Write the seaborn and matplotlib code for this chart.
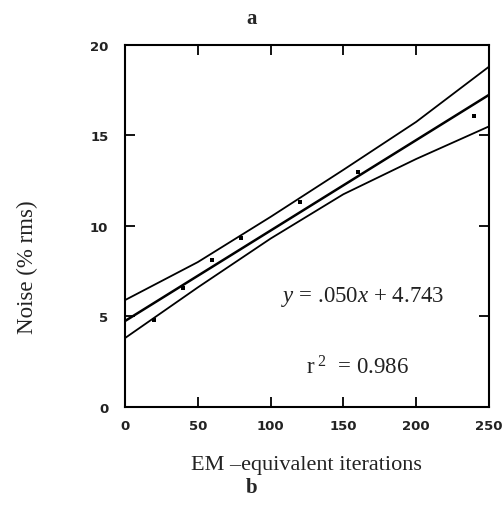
import numpy as np
import pandas as pd
import matplotlib
matplotlib.use('Agg')
import matplotlib.pyplot as plt
import seaborn as sns

# 数据
iterations = [20, 40, 60, 80, 120, 160, 240]
noise = [4.8, 6.55, 8.1, 9.35, 11.3, 13.0, 16.1]

# 拟合直线 y = .050x + 4.743
slope = 0.050
intercept = 4.743
fit_x = [0, 250]

# 置信带（手绘曲线读数）
band_x = [0, 50, 100, 150, 200, 250]
band_upper = [5.9, 8.0, 10.5, 13.1, 15.75, 18.8]
band_lower = [3.8, 6.6, 9.3, 11.75, 13.7, 15.5]

x_ticks = [0, 50, 100, 150, 200, 250]
y_ticks = [0, 5, 10, 15, 20]

sns.set_theme(style='ticks')
plt.rcParams['font.family'] = ['DejaVu Sans']
plt.rcParams['mathtext.fontset'] = 'custom'
plt.rcParams['mathtext.rm'] = 'Liberation Serif'
plt.rcParams['mathtext.it'] = 'Liberation Serif:italic'

fig = plt.figure(figsize=(5.04, 5.06), dpi=100)
ax = fig.add_axes([0.248, 0.194, 0.722, 0.715])

df_pts = pd.DataFrame({'x': iterations, 'y': noise})
df_fit = pd.DataFrame({'x': fit_x, 'y': [slope * v + intercept for v in fit_x]})
df_up = pd.DataFrame({'x': band_x, 'y': band_upper})
df_lo = pd.DataFrame({'x': band_x, 'y': band_lower})

sns.lineplot(data=df_fit, x='x', y='y', ax=ax, color='black', linewidth=1.8)
sns.lineplot(data=df_up, x='x', y='y', ax=ax, color='black', linewidth=1.3)
sns.lineplot(data=df_lo, x='x', y='y', ax=ax, color='black', linewidth=1.3)
sns.scatterplot(data=df_pts, x='x', y='y', ax=ax, color='black', marker='s', s=10,
                edgecolor='black', linewidth=0)

ax.set_xlim(0, 250)
ax.set_ylim(0, 20)
ax.set_xticks(x_ticks)
ax.set_yticks(y_ticks)
ax.tick_params(direction='in', length=7, width=1.3, top=True, right=True,
               labelsize=9.5, pad=9, colors='black')
for lab in ax.get_xticklabels() + ax.get_yticklabels():
    lab.set_fontweight('bold')
    lab.set_color('#222222')
ax.tick_params(axis='y', pad=12)
for sp in ax.spines.values():
    sp.set_linewidth(1.5)
    sp.set_color('black')

ax.set_xlabel('EM \u2013equivalent iterations', family='Liberation Serif', fontsize=16,
              color='#222222', labelpad=16)
ax.set_ylabel('Noise (% rms)', family='Liberation Serif', fontsize=16.5,
              color='#222222')
ax.yaxis.set_label_coords(-0.24, 0.39)

ax.text(163, 6.1, r'$y$ = .050$x$ + 4.743', family='Liberation Serif',
        fontsize=16.5, ha='center', va='center', color='#222222')
ax.text(160, 2.2, r'r$^{\ 2}$  = 0.986', family='Liberation Serif',
        fontsize=16.5, ha='center', va='center', color='#222222')

fig.text(0.5, 0.963, 'a', family='Liberation Serif', fontweight='bold', fontsize=15,
         ha='center', va='center')
fig.text(0.5, 0.036, 'b', family='Liberation Serif', fontweight='bold', fontsize=15,
         ha='center', va='center')

fig.savefig('out.png', dpi=100)
